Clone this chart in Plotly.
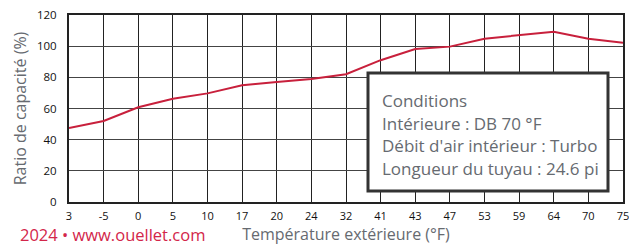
import plotly.graph_objects as go

temps = ["3", "-5", "0", "5", "10", "17", "20", "24", "32", "41", "43", "47", "53", "59", "64", "70", "75"]
ratio = [47.5, 52, 60.8, 66.3, 69.7, 74.9, 77, 79, 82, 91, 98.2, 99.7, 104.8, 107, 109.3, 104.8, 102.2]
y_ticks = [0, 20, 40, 60, 80, 100, 120]
cond_lines = ["Conditions", "Intérieure : DB 70 °F", "Débit d'air intérieur : Turbo", "Longueur du tuyau : 24.6 pi"]

OFF = 8  # default page body margin
W, H = 637 - OFF, 245 - OFF
L, R, T, B = 69 - OFF, 14, 15 - OFF, 43
pw, ph = W - L - R, H - T - B

def px(x):
    return (x - OFF - L) / pw

def py(y):
    return (H - B - (y - OFF)) / ph

fig = go.Figure()
fig.add_trace(go.Scatter(x=temps, y=ratio, mode="lines",
                         line=dict(color="#c8203c", width=2), hoverinfo="skip"))

fig.add_shape(type="rect", xref="paper", yref="paper",
              x0=px(368), x1=px(608), y0=py(191), y1=py(73),
              fillcolor="white", line=dict(color="#333333", width=3), layer="above")
for i, t in enumerate(cond_lines):
    fig.add_annotation(text=t, xref="paper", yref="paper", x=px(380), y=py(100.5 + i * 22.6),
                       xanchor="left", yanchor="middle", showarrow=False,
                       font=dict(family="Open Sans", size=17, color="#666a70"))

fig.add_annotation(text="2024 • www.ouellet.com", xref="paper", yref="paper",
                   x=px(207), y=py(234), xanchor="right", yanchor="middle", showarrow=False,
                   font=dict(family="Open Sans", size=16.5, color="#d3264a"))

fig.update_layout(
    width=W, height=H, margin=dict(l=L, r=R, t=T, b=B, autoexpand=False),
    paper_bgcolor="white", plot_bgcolor="white", showlegend=False,
    xaxis=dict(type="category", range=[0, len(temps) - 1], showgrid=True, automargin=False,
               gridcolor="#222222", gridwidth=1, showline=True, linecolor="#222222",
               linewidth=2, mirror=True, ticks="", ticklabelstandoff=3,
               ticklabeloverflow="allow",
               tickfont=dict(family="Open Sans", size=11, color="#111"),
               title=dict(text="Température extérieure (°F)", standoff=8,
                          font=dict(family="Open Sans", size=16, color="#666a70"))),
    yaxis=dict(range=[0, 120], tickvals=y_ticks, showgrid=True, gridcolor="#444444",
               gridwidth=1, showline=True, linecolor="#222222", linewidth=2, mirror=True,
               automargin=False, ticklabelstandoff=8, ticklabeloverflow="allow",
               ticks="", zeroline=False, tickfont=dict(family="Open Sans", size=11.5, color="#111"),
               title=dict(text="Ratio de capacité (%)", standoff=6,
                          font=dict(family="Open Sans", size=16, color="#666a70"))),
)

fig.write_html("out.html")
